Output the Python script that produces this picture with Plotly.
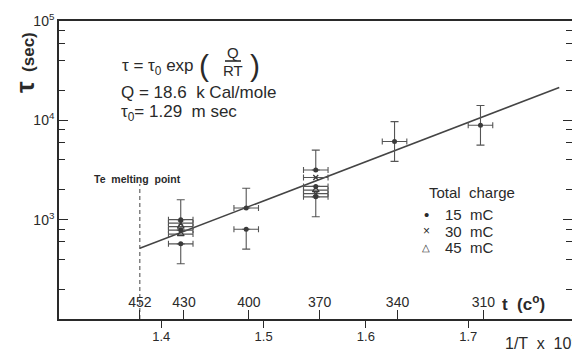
import numpy as np
import plotly.graph_objects as go

# ---------------- data ----------------
# 1/T x 10^3 positions and relaxation times tau (sec)
s15_x = [1.419, 1.419, 1.419, 1.483, 1.483, 1.551, 1.551, 1.551, 1.628, 1.712]
s15_y = [1000, 785, 571, 1309, 800, 3162, 2163, 1698, 6124, 8913]
s15_err_up = [585, 0, 0, 766, 0, 1850, 0, 0, 3583, 5214]
s15_err_down = [0, 0, 211, 0, 295, 0, 0, 627, 2260, 3289]

s30_x = [1.419, 1.551, 1.551]
s30_y = [923, 2655, 1828]

s45_x = [1.419, 1.419, 1.551]
s45_y = [851, 716, 1982]

x_err = 0.012

# fitted Arrhenius line
fit_x = [1.379, 1.789]
fit_y = [515, 21400]

# Te melting point marker
melt_x = [1.379, 1.379]
melt_y = [100, 2290]

# axis ticks
y_ticks = [100, 1000, 10000, 100000]
y_ticktext = ["10<sup>2</sup>", "10<sup>3</sup>", "10<sup>4</sup>", "10<sup>5</sup>"]
y_minor = [200, 400, 600, 800, 2000, 4000, 6000, 8000, 20000, 40000, 60000, 80000]
x_ticks = [1.4, 1.5, 1.6, 1.7]
x_ticktext = ["1.4", "1.5", "1.6", "1.7"]
t_celsius = [452, 430, 400, 370, 340, 310]

legend_labels = ["15  mC", "30  mC", "45  mC"]
legend_symbols = ["•", "×", "△"]

# ---------------- styling ----------------
INK = "#2a2a2a"
FONT = "Liberation Sans"
L, R, T, B = 59, 0, 21, 31
W, H = 572, 350
PW, PH = W - L - R, H - T - B
X_RANGE = [1.3, 1.3 + PW / 1023]


def px(xp):
    return (xp - L) / PW


def py(yp):
    return (H - B - yp) / PH


fig = go.Figure()

fig.add_trace(go.Scatter(x=fit_x, y=fit_y, mode="lines",
                         line=dict(color="#444444", width=1.6),
                         showlegend=False, hoverinfo="skip"))
fig.add_trace(go.Scatter(x=melt_x, y=melt_y, mode="lines",
                         line=dict(color="#555555", width=1.1, dash="4px,3px"),
                         showlegend=False, hoverinfo="skip"))

err_style = dict(color="#555555", thickness=1.1)

fig.add_trace(go.Scatter(
    x=s15_x, y=s15_y, mode="markers", name=legend_labels[0], showlegend=False,
    marker=dict(symbol="circle", size=5, color="#3a3a3a"),
    error_x=dict(type="constant", value=x_err, width=3, **err_style),
    error_y=dict(type="data", symmetric=False, array=s15_err_up,
                 arrayminus=s15_err_down, width=4, **err_style)))
fig.add_trace(go.Scatter(
    x=s30_x, y=s30_y, mode="markers", name=legend_labels[1], showlegend=False,
    marker=dict(symbol="x-thin", size=5, color="#3a3a3a",
                line=dict(width=1.3, color="#3a3a3a")),
    error_x=dict(type="constant", value=x_err, width=3, **err_style)))
fig.add_trace(go.Scatter(
    x=s45_x, y=s45_y, mode="markers", name=legend_labels[2], showlegend=False,
    marker=dict(symbol="triangle-up-open", size=6, color="#3a3a3a",
                line=dict(width=1.1)),
    error_x=dict(type="constant", value=x_err, width=3, **err_style)))

# secondary bottom axis for temperature in Celsius (1/T x 10^3 with T in K)
t_pos = [1000.0 / (t + 273.15) for t in t_celsius]
fig.add_trace(go.Scatter(x=t_pos, y=[None] * len(t_pos), xaxis="x2",
                         showlegend=False, hoverinfo="skip"))

fig.update_layout(
    width=W, height=H,
    margin=dict(l=L, r=R, t=T, b=B, autoexpand=False),
    paper_bgcolor="white", plot_bgcolor="white",
    showlegend=False,
    font=dict(family=FONT, color=INK, size=14),
    xaxis=dict(range=X_RANGE, showgrid=False, zeroline=False,
               showline=True, linecolor=INK, linewidth=1.6, mirror=True,
               ticks="outside", ticklen=7, tickwidth=1.3, tickcolor=INK,
               tickvals=x_ticks, ticktext=x_ticktext, ticklabelstandoff=-2,
               tickfont=dict(size=13, family=FONT, color=INK)),
    xaxis2=dict(range=X_RANGE, overlaying="x", anchor="y", side="bottom",
                showgrid=False, zeroline=False, showline=False,
                ticks="inside", ticklen=9, tickwidth=1.3, tickcolor=INK,
                ticklabelposition="inside",
                tickvals=t_pos, ticktext=[str(t) for t in t_celsius],
                tickfont=dict(size=14, family=FONT, color=INK)),
    yaxis=dict(type="log", range=[2, 5], showgrid=False, zeroline=False,
               showline=True, linecolor=INK, linewidth=1.6, mirror="ticks",
               ticks="inside", ticklen=9, tickwidth=1.3, tickcolor=INK,
               tickvals=y_ticks, ticktext=y_ticktext,
               tickfont=dict(size=14, family=FONT, color=INK),
               minor=dict(tickvals=y_minor, ticks="inside", ticklen=6,
                          tickwidth=1.1, tickcolor=INK)),
)

ann = []


def add_text(x, y, text, size=16, xanchor="left", **kw):
    ann.append(dict(x=px(x), y=py(y), xref="paper", yref="paper", text=text,
                    showarrow=False, xanchor=xanchor, yanchor="middle",
                    font=dict(size=size, family=FONT, color=INK), **kw))


add_text(120, 67, "τ = τ<sub>0</sub> exp", 17)
add_text(204, 65, "(", 30, xanchor="center")
add_text(233, 53, "Q", 15, xanchor="center")
add_text(233, 70, "RT", 15, xanchor="center")
add_text(255, 65, ")", 30, xanchor="center")
add_text(119, 92, "Q = 18.6  k Cal/mole", 17)
add_text(119, 113, "τ<sub>0</sub>= 1.29  m sec", 17)
add_text(25, 63, "<b><span style='font-size:26px'>τ</span>  (sec)</b>", 17,
         xanchor="center", textangle=-90)
add_text(137, 179, "<b>Te  melting  point</b>", 10.5, xanchor="center")
add_text(500, 303, "<b>t  (c<sup>o</sup>)</b>", 17)
add_text(503, 342, "1/T  x  10<sup>3</sup>", 16)

# legend block
add_text(427, 192, "Total  charge", 15)
leg_y = [214, 231, 247]
leg_sizes = [15, 12, 10]
for lab, sym, yy, ss in zip(legend_labels, legend_symbols, leg_y, leg_sizes):
    add_text(426, yy, sym, ss, xanchor="center")
    add_text(443, yy, lab, 15)

fig.update_layout(annotations=ann)
fig.add_shape(type="line", xref="paper", yref="paper",
              x0=px(225), x1=px(241), y0=py(61), y1=py(61),
              line=dict(color=INK, width=1.6))

fig.write_html("out.html", config={"displayModeBar": False},
               post_script="document.body.style.margin='0';")
